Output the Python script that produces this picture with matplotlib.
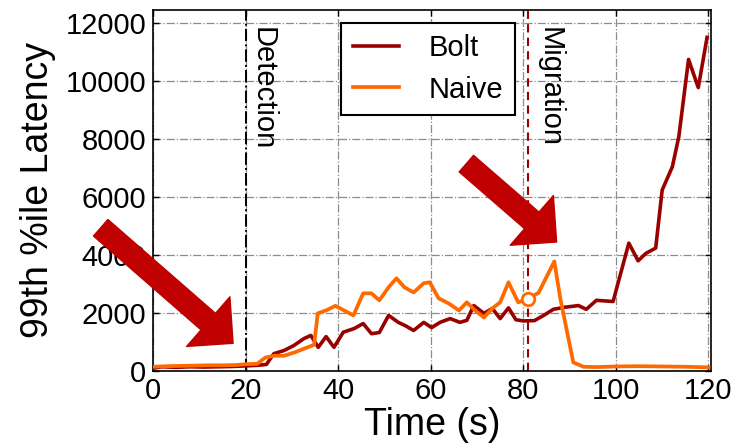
'''
99th percentile latency over time: Bolt vs Naive
'''

import matplotlib
matplotlib.use('Agg')
import matplotlib.pyplot as plt

# values
bolt_t = [0, 2, 5, 8, 11, 14, 17, 20, 22.5, 24.5, 26.1, 28.3, 30.4, 32.6, 34.1,
          35.7, 37.4, 39.1, 41.1, 43.5, 45.4, 47.2, 48.9, 50.9, 53, 54.7, 56.3,
          58.5, 60.2, 62, 64.2, 66.3, 67.8, 69.3, 71.5, 73.3, 75, 76.8, 78.4,
          80, 82.4, 84.4, 86.5, 88.9, 90.5, 91.9, 93.6, 95.8, 97.5, 99.4,
          102.8, 104.8, 106.5, 108.6, 110, 112.2, 113.6, 115.7, 117.8, 119.7]
bolt_lat = [100, 150, 130, 150, 140, 150, 160, 180, 200, 230, 600, 710, 880,
            1120, 1230, 820, 1190, 820, 1340, 1470, 1640, 1290, 1330, 1920,
            1680, 1550, 1400, 1680, 1500, 1680, 1810, 1680, 1750, 2260, 1990,
            2160, 1810, 2180, 1770, 1730, 1740, 1920, 2130, 2200, 2230, 2260,
            2130, 2440, 2420, 2400, 4410, 3800, 4060, 4240, 6240, 7040, 8080,
            10740, 9770, 11500]

naive_t = [0, 3, 6, 9, 12, 15, 18, 20, 22.5, 24.3, 26.2, 28.3, 30.5, 33.4,
           34.8, 35.6, 37.5, 39.4, 41.3, 43.3, 45.4, 47.2, 48.9, 50.9, 52.6,
           54.3, 56.3, 58.5, 59.8, 61.7, 63.9, 66.1, 67.8, 69.6, 71.5, 73.3,
           75, 76.8, 78.9, 81.1, 83.3, 86.7, 88, 90.8, 93, 96, 100, 105, 110,
           115, 120]
naive_lat = [150, 170, 180, 190, 200, 200, 210, 240, 250, 470, 530, 530, 640,
             820, 910, 1990, 2100, 2250, 2090, 1920, 2680, 2680, 2440, 2890,
             3200, 2890, 2710, 3030, 3060, 2510, 2330, 2090, 2370, 2090, 1850,
             2160, 2370, 3060, 2370, 2500, 2700, 3780, 2500, 300, 150, 140,
             160, 170, 160, 150, 130]

# highlighted point on the naive curve
mark_t = [81.1]
mark_lat = [2500]

detect_t = 20
migrate_t = 81.1

x_ticks = [0, 20, 40, 60, 80, 100, 120]
y_ticks = [0, 2000, 4000, 6000, 8000, 10000, 12000]

plt.rcParams['font.family'] = ['Liberation Sans', 'DejaVu Sans']

bolt_color = '#990000'
naive_color = '#ff6a00'
arrow_color = '#c00000'

fig = plt.figure(figsize=(7.32, 4.45), dpi=100)
ax = fig.add_axes([0.209, 0.166, 0.762, 0.812])

ax.plot(bolt_t, bolt_lat, color=bolt_color, lw=2.6, label='Bolt', zorder=3)
ax.plot(naive_t, naive_lat, color=naive_color, lw=2.7, label='Naive', zorder=4)
ax.plot(mark_t, mark_lat, 'o', mfc='white', mec=naive_color, mew=2,
        ms=9, zorder=5)

# event markers
ax.axvline(detect_t, color='black', ls='-.', lw=1.4, zorder=2)
ax.axvline(migrate_t, color=bolt_color, ls=(0, (4, 2.5)), lw=1.5, zorder=2)
ax.text(detect_t + 0.7, 11850, 'Detection', rotation=270, fontsize=21,
        ha='left', va='top')
ax.text(migrate_t + 1.6, 11850, 'Migration', rotation=270, fontsize=21,
        ha='left', va='top')

ax.set_xlim(0, 120.5)
ax.set_ylim(0, 12450)
ax.set_xticks(x_ticks)
ax.set_yticks(y_ticks)
ax.tick_params(direction='in', top=True, right=True, length=4, width=1,
               labelsize=21)
ax.tick_params(axis='x', pad=4)
ax.tick_params(axis='y', pad=5)
ax.grid(True, color='#8c8c8c', ls='-.', lw=0.9)
for sp in ax.spines.values():
    sp.set_linewidth(1.2)
    sp.set_color('black')

ax.set_xlabel('Time (s)', fontsize=27, labelpad=2)
ax.set_ylabel('99th %ile Latency', fontsize=27, labelpad=7)

leg = ax.legend(loc='upper left', bbox_to_anchor=(0.337, 0.964),
                borderaxespad=0, fontsize=21, fancybox=False, framealpha=1,
                handlelength=1.6, handletextpad=1.0, labelspacing=0.45,
                borderpad=0.4)
leg.get_frame().set_edgecolor('black')
leg.get_frame().set_linewidth(1.5)

# the two big red call-out arrows
arrow_style = 'simple,head_length=1.5,head_width=3,tail_width=1'
ax.annotate('', xy=(17.3, 960), xytext=(-11.3, 4940),
            arrowprops=dict(arrowstyle=arrow_style, color=arrow_color,
                            mutation_scale=15.8, shrinkA=0, shrinkB=0,
                            clip_on=False),
            annotation_clip=False, zorder=10)
ax.annotate('', xy=(87.2, 4450), xytext=(67.7, 7150),
            arrowprops=dict(arrowstyle=arrow_style, color=arrow_color,
                            mutation_scale=15.8, shrinkA=0, shrinkB=0,
                            clip_on=False),
            annotation_clip=False, zorder=10)

fig.savefig('out.png', dpi=100)
